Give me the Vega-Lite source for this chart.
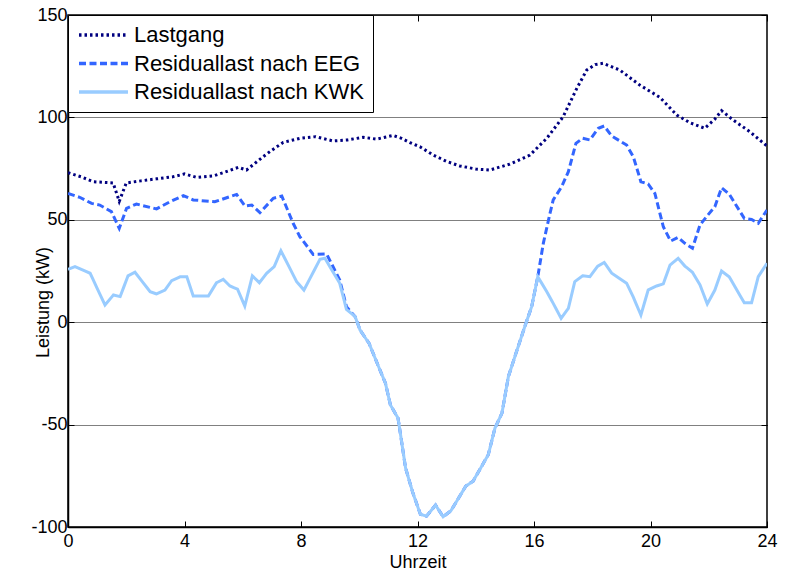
{
  "$schema": "https://vega.github.io/schema/vega-lite/v6.json",
  "width": 699,
  "height": 512,
  "autosize": {"type": "none"},
  "padding": {"left": 68, "top": 15, "right": 19, "bottom": 50},
  "background": "white",
  "config": {
    "font": "Liberation Sans",
    "view": {"stroke": "black", "strokeWidth": 1.5},
    "axis": {"labelFont": "Liberation Sans", "titleFont": "Liberation Sans", "labelColor": "black", "titleColor": "black", "titleFontWeight": "normal", "domainColor": "black", "tickColor": "black", "domainWidth": 1.5, "tickWidth": 1, "labelFlush": false}
  },
  "datasets": {
    "d": [
      {"t": 0, "v": 73, "s": "Lastgang"},
      {"t": 0.45, "v": 71, "s": "Lastgang"},
      {"t": 0.87, "v": 68.6, "s": "Lastgang"},
      {"t": 1.55, "v": 68, "s": "Lastgang"},
      {"t": 1.76, "v": 59, "s": "Lastgang"},
      {"t": 2.0, "v": 68, "s": "Lastgang"},
      {"t": 2.5, "v": 69, "s": "Lastgang"},
      {"t": 3.04, "v": 70, "s": "Lastgang"},
      {"t": 3.6, "v": 71, "s": "Lastgang"},
      {"t": 4.0, "v": 72.4, "s": "Lastgang"},
      {"t": 4.42, "v": 70.7, "s": "Lastgang"},
      {"t": 5.0, "v": 71.5, "s": "Lastgang"},
      {"t": 5.33, "v": 73, "s": "Lastgang"},
      {"t": 5.85, "v": 75.6, "s": "Lastgang"},
      {"t": 6.13, "v": 74.3, "s": "Lastgang"},
      {"t": 6.7, "v": 80.8, "s": "Lastgang"},
      {"t": 7.0, "v": 84, "s": "Lastgang"},
      {"t": 7.39, "v": 87.8, "s": "Lastgang"},
      {"t": 7.97, "v": 89.8, "s": "Lastgang"},
      {"t": 8.5, "v": 90.6, "s": "Lastgang"},
      {"t": 9.1, "v": 88.5, "s": "Lastgang"},
      {"t": 9.6, "v": 89, "s": "Lastgang"},
      {"t": 10.13, "v": 90.3, "s": "Lastgang"},
      {"t": 10.59, "v": 89.4, "s": "Lastgang"},
      {"t": 11.16, "v": 91.2, "s": "Lastgang"},
      {"t": 11.45, "v": 89.8, "s": "Lastgang"},
      {"t": 11.74, "v": 87.7, "s": "Lastgang"},
      {"t": 12.08, "v": 85.7, "s": "Lastgang"},
      {"t": 12.54, "v": 81.6, "s": "Lastgang"},
      {"t": 13.0, "v": 78.5, "s": "Lastgang"},
      {"t": 13.45, "v": 76.3, "s": "Lastgang"},
      {"t": 14.0, "v": 74.8, "s": "Lastgang"},
      {"t": 14.48, "v": 74.3, "s": "Lastgang"},
      {"t": 15.17, "v": 77.2, "s": "Lastgang"},
      {"t": 15.86, "v": 81.6, "s": "Lastgang"},
      {"t": 16.44, "v": 89.8, "s": "Lastgang"},
      {"t": 17.0, "v": 100.3, "s": "Lastgang"},
      {"t": 17.47, "v": 114.2, "s": "Lastgang"},
      {"t": 17.81, "v": 123.1, "s": "Lastgang"},
      {"t": 18.1, "v": 125.8, "s": "Lastgang"},
      {"t": 18.37, "v": 126.4, "s": "Lastgang"},
      {"t": 18.95, "v": 123.1, "s": "Lastgang"},
      {"t": 19.63, "v": 115.8, "s": "Lastgang"},
      {"t": 20.32, "v": 109.8, "s": "Lastgang"},
      {"t": 20.9, "v": 101.2, "s": "Lastgang"},
      {"t": 21.35, "v": 97.4, "s": "Lastgang"},
      {"t": 21.86, "v": 94.7, "s": "Lastgang"},
      {"t": 22.2, "v": 99, "s": "Lastgang"},
      {"t": 22.44, "v": 103.3, "s": "Lastgang"},
      {"t": 22.84, "v": 98.7, "s": "Lastgang"},
      {"t": 23.41, "v": 93, "s": "Lastgang"},
      {"t": 24, "v": 86, "s": "Lastgang"},

      {"t": 0, "v": 62.9, "s": "Residuallast nach EEG"},
      {"t": 0.4, "v": 61, "s": "Residuallast nach EEG"},
      {"t": 0.81, "v": 58, "s": "Residuallast nach EEG"},
      {"t": 1.09, "v": 57.2, "s": "Residuallast nach EEG"},
      {"t": 1.49, "v": 54, "s": "Residuallast nach EEG"},
      {"t": 1.76, "v": 45.8, "s": "Residuallast nach EEG"},
      {"t": 2.01, "v": 55.6, "s": "Residuallast nach EEG"},
      {"t": 2.35, "v": 57.7, "s": "Residuallast nach EEG"},
      {"t": 3.04, "v": 55.3, "s": "Residuallast nach EEG"},
      {"t": 3.5, "v": 58.8, "s": "Residuallast nach EEG"},
      {"t": 3.96, "v": 61.8, "s": "Residuallast nach EEG"},
      {"t": 4.3, "v": 59.7, "s": "Residuallast nach EEG"},
      {"t": 5.04, "v": 58.8, "s": "Residuallast nach EEG"},
      {"t": 5.79, "v": 62.4, "s": "Residuallast nach EEG"},
      {"t": 6.08, "v": 56.7, "s": "Residuallast nach EEG"},
      {"t": 6.31, "v": 57.2, "s": "Residuallast nach EEG"},
      {"t": 6.59, "v": 53.5, "s": "Residuallast nach EEG"},
      {"t": 7.05, "v": 60.5, "s": "Residuallast nach EEG"},
      {"t": 7.34, "v": 61.6, "s": "Residuallast nach EEG"},
      {"t": 7.73, "v": 48.3, "s": "Residuallast nach EEG"},
      {"t": 7.96, "v": 41.8, "s": "Residuallast nach EEG"},
      {"t": 8.42, "v": 33.1, "s": "Residuallast nach EEG"},
      {"t": 8.88, "v": 33.3, "s": "Residuallast nach EEG"},
      {"t": 9.33, "v": 20.6, "s": "Residuallast nach EEG"},
      {"t": 9.56, "v": 7.6, "s": "Residuallast nach EEG"},
      {"t": 9.86, "v": 2.7, "s": "Residuallast nach EEG"},
      {"t": 10.03, "v": -3.9, "s": "Residuallast nach EEG"},
      {"t": 10.34, "v": -10.4, "s": "Residuallast nach EEG"},
      {"t": 10.64, "v": -20.9, "s": "Residuallast nach EEG"},
      {"t": 10.9, "v": -29.8, "s": "Residuallast nach EEG"},
      {"t": 11.07, "v": -40.4, "s": "Residuallast nach EEG"},
      {"t": 11.33, "v": -46.8, "s": "Residuallast nach EEG"},
      {"t": 11.41, "v": -54.1, "s": "Residuallast nach EEG"},
      {"t": 11.59, "v": -71.2, "s": "Residuallast nach EEG"},
      {"t": 11.84, "v": -83.3, "s": "Residuallast nach EEG"},
      {"t": 12.1, "v": -93.8, "s": "Residuallast nach EEG"},
      {"t": 12.31, "v": -94.7, "s": "Residuallast nach EEG"},
      {"t": 12.62, "v": -89.3, "s": "Residuallast nach EEG"},
      {"t": 12.88, "v": -95, "s": "Residuallast nach EEG"},
      {"t": 13.14, "v": -92.2, "s": "Residuallast nach EEG"},
      {"t": 13.66, "v": -80, "s": "Residuallast nach EEG"},
      {"t": 13.91, "v": -77.6, "s": "Residuallast nach EEG"},
      {"t": 14.43, "v": -64.7, "s": "Residuallast nach EEG"},
      {"t": 14.66, "v": -51.7, "s": "Residuallast nach EEG"},
      {"t": 14.9, "v": -44.4, "s": "Residuallast nach EEG"},
      {"t": 15.12, "v": -26.6, "s": "Residuallast nach EEG"},
      {"t": 15.38, "v": -15.2, "s": "Residuallast nach EEG"},
      {"t": 15.72, "v": -0.6, "s": "Residuallast nach EEG"},
      {"t": 15.92, "v": 7.6, "s": "Residuallast nach EEG"},
      {"t": 16.13, "v": 22.2, "s": "Residuallast nach EEG"},
      {"t": 16.32, "v": 38.5, "s": "Residuallast nach EEG"},
      {"t": 16.55, "v": 53.2, "s": "Residuallast nach EEG"},
      {"t": 16.66, "v": 59.7, "s": "Residuallast nach EEG"},
      {"t": 16.95, "v": 66.2, "s": "Residuallast nach EEG"},
      {"t": 17.18, "v": 73.5, "s": "Residuallast nach EEG"},
      {"t": 17.44, "v": 87.3, "s": "Residuallast nach EEG"},
      {"t": 17.67, "v": 89.8, "s": "Residuallast nach EEG"},
      {"t": 17.92, "v": 89, "s": "Residuallast nach EEG"},
      {"t": 18.21, "v": 94.7, "s": "Residuallast nach EEG"},
      {"t": 18.41, "v": 95.8, "s": "Residuallast nach EEG"},
      {"t": 18.67, "v": 90.9, "s": "Residuallast nach EEG"},
      {"t": 19.18, "v": 86.5, "s": "Residuallast nach EEG"},
      {"t": 19.41, "v": 80.8, "s": "Residuallast nach EEG"},
      {"t": 19.67, "v": 68.6, "s": "Residuallast nach EEG"},
      {"t": 19.92, "v": 67.5, "s": "Residuallast nach EEG"},
      {"t": 20.15, "v": 62.9, "s": "Residuallast nach EEG"},
      {"t": 20.44, "v": 46.6, "s": "Residuallast nach EEG"},
      {"t": 20.69, "v": 39.6, "s": "Residuallast nach EEG"},
      {"t": 20.95, "v": 41.4, "s": "Residuallast nach EEG"},
      {"t": 21.18, "v": 38.5, "s": "Residuallast nach EEG"},
      {"t": 21.44, "v": 36.1, "s": "Residuallast nach EEG"},
      {"t": 21.7, "v": 47.5, "s": "Residuallast nach EEG"},
      {"t": 21.95, "v": 52, "s": "Residuallast nach EEG"},
      {"t": 22.21, "v": 56.4, "s": "Residuallast nach EEG"},
      {"t": 22.44, "v": 65.7, "s": "Residuallast nach EEG"},
      {"t": 22.7, "v": 62.6, "s": "Residuallast nach EEG"},
      {"t": 23.22, "v": 50.7, "s": "Residuallast nach EEG"},
      {"t": 23.47, "v": 50.2, "s": "Residuallast nach EEG"},
      {"t": 23.7, "v": 48.3, "s": "Residuallast nach EEG"},
      {"t": 24, "v": 54.8, "s": "Residuallast nach EEG"},

      {"t": 0, "v": 25.8, "s": "Residuallast nach KWK"},
      {"t": 0.24, "v": 27.1, "s": "Residuallast nach KWK"},
      {"t": 0.76, "v": 23.9, "s": "Residuallast nach KWK"},
      {"t": 1.27, "v": 8.4, "s": "Residuallast nach KWK"},
      {"t": 1.56, "v": 13.3, "s": "Residuallast nach KWK"},
      {"t": 1.79, "v": 12.5, "s": "Residuallast nach KWK"},
      {"t": 2.06, "v": 22.6, "s": "Residuallast nach KWK"},
      {"t": 2.3, "v": 24.4, "s": "Residuallast nach KWK"},
      {"t": 2.82, "v": 14.9, "s": "Residuallast nach KWK"},
      {"t": 3.04, "v": 13.8, "s": "Residuallast nach KWK"},
      {"t": 3.33, "v": 15.7, "s": "Residuallast nach KWK"},
      {"t": 3.56, "v": 20.3, "s": "Residuallast nach KWK"},
      {"t": 3.85, "v": 22.2, "s": "Residuallast nach KWK"},
      {"t": 4.08, "v": 22.2, "s": "Residuallast nach KWK"},
      {"t": 4.3, "v": 12.8, "s": "Residuallast nach KWK"},
      {"t": 4.82, "v": 12.8, "s": "Residuallast nach KWK"},
      {"t": 5.1, "v": 19.3, "s": "Residuallast nach KWK"},
      {"t": 5.33, "v": 20.9, "s": "Residuallast nach KWK"},
      {"t": 5.56, "v": 17.7, "s": "Residuallast nach KWK"},
      {"t": 5.82, "v": 16.1, "s": "Residuallast nach KWK"},
      {"t": 6.07, "v": 7.9, "s": "Residuallast nach KWK"},
      {"t": 6.33, "v": 22.6, "s": "Residuallast nach KWK"},
      {"t": 6.57, "v": 19.3, "s": "Residuallast nach KWK"},
      {"t": 6.82, "v": 23.9, "s": "Residuallast nach KWK"},
      {"t": 7.08, "v": 27.1, "s": "Residuallast nach KWK"},
      {"t": 7.31, "v": 34.9, "s": "Residuallast nach KWK"},
      {"t": 7.85, "v": 19.8, "s": "Residuallast nach KWK"},
      {"t": 8.1, "v": 15.7, "s": "Residuallast nach KWK"},
      {"t": 8.65, "v": 30.7, "s": "Residuallast nach KWK"},
      {"t": 8.82, "v": 31.2, "s": "Residuallast nach KWK"},
      {"t": 9.33, "v": 19, "s": "Residuallast nach KWK"},
      {"t": 9.56, "v": 6.3, "s": "Residuallast nach KWK"},
      {"t": 9.86, "v": 2.7, "s": "Residuallast nach KWK"},
      {"t": 10.03, "v": -3.9, "s": "Residuallast nach KWK"},
      {"t": 10.34, "v": -10.4, "s": "Residuallast nach KWK"},
      {"t": 10.64, "v": -20.9, "s": "Residuallast nach KWK"},
      {"t": 10.9, "v": -29.8, "s": "Residuallast nach KWK"},
      {"t": 11.07, "v": -40.4, "s": "Residuallast nach KWK"},
      {"t": 11.33, "v": -46.8, "s": "Residuallast nach KWK"},
      {"t": 11.41, "v": -54.1, "s": "Residuallast nach KWK"},
      {"t": 11.59, "v": -71.2, "s": "Residuallast nach KWK"},
      {"t": 11.84, "v": -83.3, "s": "Residuallast nach KWK"},
      {"t": 12.1, "v": -93.8, "s": "Residuallast nach KWK"},
      {"t": 12.31, "v": -94.7, "s": "Residuallast nach KWK"},
      {"t": 12.62, "v": -89.3, "s": "Residuallast nach KWK"},
      {"t": 12.88, "v": -95, "s": "Residuallast nach KWK"},
      {"t": 13.14, "v": -92.2, "s": "Residuallast nach KWK"},
      {"t": 13.66, "v": -80, "s": "Residuallast nach KWK"},
      {"t": 13.91, "v": -77.6, "s": "Residuallast nach KWK"},
      {"t": 14.43, "v": -64.7, "s": "Residuallast nach KWK"},
      {"t": 14.66, "v": -51.7, "s": "Residuallast nach KWK"},
      {"t": 14.9, "v": -44.4, "s": "Residuallast nach KWK"},
      {"t": 15.12, "v": -26.6, "s": "Residuallast nach KWK"},
      {"t": 15.38, "v": -15.2, "s": "Residuallast nach KWK"},
      {"t": 15.72, "v": -0.6, "s": "Residuallast nach KWK"},
      {"t": 15.92, "v": 7.6, "s": "Residuallast nach KWK"},
      {"t": 16.13, "v": 22.2, "s": "Residuallast nach KWK"},
      {"t": 16.44, "v": 14.9, "s": "Residuallast nach KWK"},
      {"t": 16.66, "v": 9.2, "s": "Residuallast nach KWK"},
      {"t": 16.93, "v": 1.9, "s": "Residuallast nach KWK"},
      {"t": 17.18, "v": 6.8, "s": "Residuallast nach KWK"},
      {"t": 17.4, "v": 19.8, "s": "Residuallast nach KWK"},
      {"t": 17.67, "v": 22.7, "s": "Residuallast nach KWK"},
      {"t": 17.92, "v": 22.2, "s": "Residuallast nach KWK"},
      {"t": 18.19, "v": 27.4, "s": "Residuallast nach KWK"},
      {"t": 18.41, "v": 29.2, "s": "Residuallast nach KWK"},
      {"t": 18.67, "v": 23.9, "s": "Residuallast nach KWK"},
      {"t": 19.18, "v": 19, "s": "Residuallast nach KWK"},
      {"t": 19.41, "v": 12.2, "s": "Residuallast nach KWK"},
      {"t": 19.67, "v": 3.5, "s": "Residuallast nach KWK"},
      {"t": 19.92, "v": 15.7, "s": "Residuallast nach KWK"},
      {"t": 20.21, "v": 17.7, "s": "Residuallast nach KWK"},
      {"t": 20.44, "v": 18.7, "s": "Residuallast nach KWK"},
      {"t": 20.67, "v": 27.9, "s": "Residuallast nach KWK"},
      {"t": 20.95, "v": 31.2, "s": "Residuallast nach KWK"},
      {"t": 21.18, "v": 27.4, "s": "Residuallast nach KWK"},
      {"t": 21.44, "v": 24.4, "s": "Residuallast nach KWK"},
      {"t": 21.7, "v": 18.2, "s": "Residuallast nach KWK"},
      {"t": 21.95, "v": 8.9, "s": "Residuallast nach KWK"},
      {"t": 22.21, "v": 15.7, "s": "Residuallast nach KWK"},
      {"t": 22.44, "v": 25, "s": "Residuallast nach KWK"},
      {"t": 22.7, "v": 22.2, "s": "Residuallast nach KWK"},
      {"t": 23.22, "v": 9.5, "s": "Residuallast nach KWK"},
      {"t": 23.47, "v": 9.5, "s": "Residuallast nach KWK"},
      {"t": 23.7, "v": 22.2, "s": "Residuallast nach KWK"},
      {"t": 24, "v": 28.8, "s": "Residuallast nach KWK"}
    ]
  },
  "data": {"name": "d"},
  "layer": [
    {
      "mark": {"type": "line", "strokeWidth": 3, "strokeCap": "butt", "clip": true},
      "encoding": {
        "x": {"field": "t", "type": "quantitative", "scale": {"domain": [0, 24], "nice": false, "zero": false},
          "axis": {"orient": "bottom", "values": [0, 4, 8, 12, 16, 20, 24], "grid": false, "tickSize": -6, "labelFontSize": 18, "labelPadding": 11, "labelFlush": false, "title": "Uhrzeit", "titleFontSize": 18, "titlePadding": 3}},
        "y": {"field": "v", "type": "quantitative", "scale": {"domain": [-100, 150], "nice": false, "zero": false},
          "axis": {"orient": "left", "values": [-100, -50, 0, 50, 100, 150], "labelExpr": "datum.value < 0 ? '-' + abs(datum.value) : '' + datum.value", "labelFlush": false, "grid": true, "gridColor": "black", "gridDash": [1, 1], "gridOpacity": 1, "gridWidth": 1, "tickSize": -6, "labelFontSize": 18, "labelPadding": 7, "title": "Leistung (kW)", "titleFontSize": 18, "titleX": -20, "titleY": 287, "titleAlign": "center", "titleBaseline": "alphabetic", "titleAngle": -90}},
        "color": {"field": "s", "type": "nominal",
          "scale": {"domain": ["Lastgang", "Residuallast nach EEG", "Residuallast nach KWK"], "range": ["#000080", "#3366ff", "#99ccff"]},
          "legend": {"title": null, "orient": "top-left", "offset": 0, "strokeColor": "black", "fillColor": "white", "padding": 9, "labelFontSize": 22, "labelFont": "Liberation Sans", "labelColor": "black", "symbolType": "stroke", "symbolSize": 2400, "symbolStrokeWidth": 3.5, "clipHeight": 22, "rowPadding": 6.5, "labelOffset": 4, "labelLimit": 400}},
        "strokeDash": {"field": "s", "type": "nominal",
          "scale": {"domain": ["Lastgang", "Residuallast nach EEG", "Residuallast nach KWK"], "range": [[2.5, 3], [7, 3.5], [10, 0]]},
          "legend": {"title": null}}
      }
    },
    {
      "mark": {"type": "line", "opacity": 0},
      "encoding": {
        "x": {"field": "t", "type": "quantitative", "axis": {"orient": "top", "values": [0, 4, 8, 12, 16, 20, 24], "labels": false, "grid": false, "tickSize": -6, "title": null, "domain": false}},
        "y": {"field": "v", "type": "quantitative", "axis": {"orient": "right", "values": [-100, -50, 0, 50, 100, 150], "labels": false, "grid": false, "tickSize": -6, "title": null, "domain": false}},
        "detail": {"field": "s"}
      }
    }
  ],
  "resolve": {"axis": {"x": "independent", "y": "independent"}}
}
